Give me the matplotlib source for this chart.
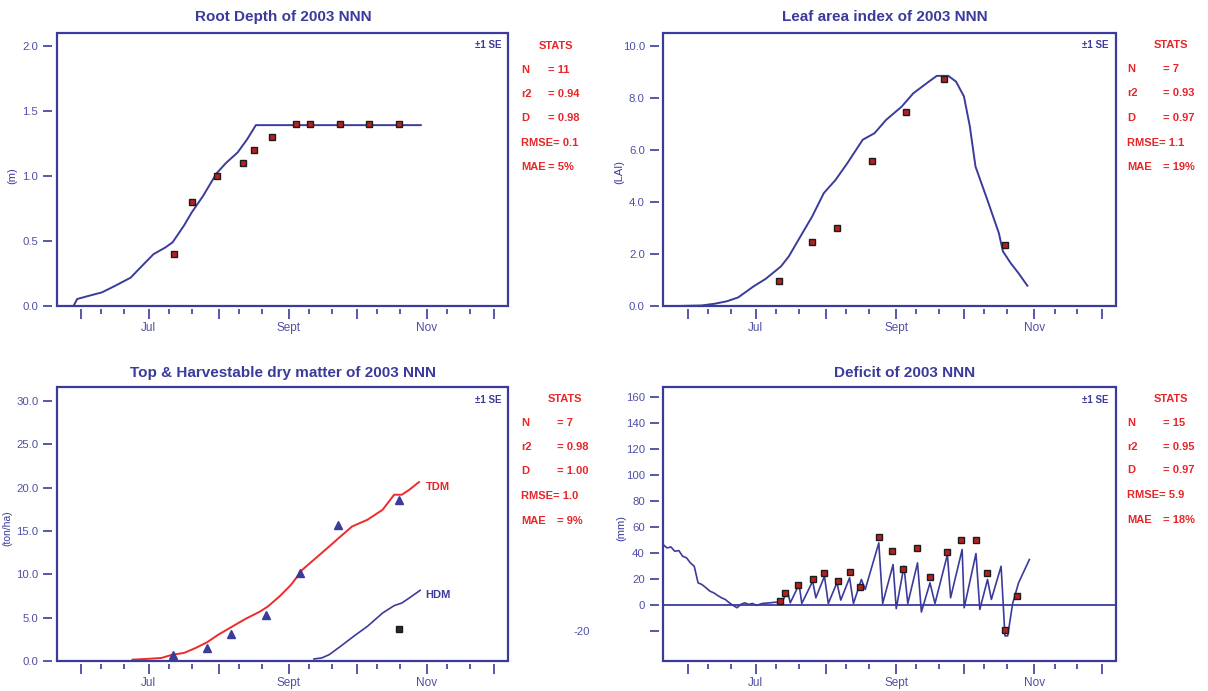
import matplotlib
matplotlib.use("Agg")
import matplotlib.pyplot as plt
from matplotlib.patches import Rectangle

plt.rcParams['font.family'] = ['Liberation Sans', 'DejaVu Sans']

# ---------------- data (day of year) ----------------
month_days = [152, 182, 213, 244, 274, 305, 335]
month_labels = ['', 'Jul', '', 'Sept', '', 'Nov', '']
minor_days = [161, 171, 191, 201, 222, 232, 253, 263, 283, 293, 314, 324]

root_sim_day = [141.5, 148.6, 150.3, 155.4, 161.3, 167.2, 174.0, 179.0, 184.1, 189.2, 192.5,
                197.6, 201.0, 206.0, 212.0, 216.2, 221.3, 225.5, 229.4, 302.4]
root_sim_val = [0.0, 0.0, 0.056, 0.08, 0.107, 0.158, 0.22, 0.31, 0.40, 0.45, 0.49,
                0.62, 0.72, 0.846, 1.02, 1.10, 1.18, 1.28, 1.39, 1.39]
root_obs_day = [193.0, 201.0, 212.3, 223.6, 228.5, 236.5, 247.1, 253.4, 266.6, 279.6, 292.6]
root_obs_val = [0.405, 0.80, 1.0, 1.10, 1.20, 1.30, 1.40, 1.40, 1.40, 1.40, 1.40]

lai_sim_day = [140.8, 158.0, 164.0, 169.2, 174.3, 181.2, 186.4, 193.2, 196.7, 201.8, 207.0,
               212.1, 217.3, 222.5, 229.3, 234.5, 239.6, 246.5, 251.6, 258.5, 262.0, 267.1,
               270.5, 274.0, 276.6, 279.1, 284.3, 289.4, 291.2, 294.6, 298.0, 302.0]
lai_sim_val = [0.0, 0.03, 0.10, 0.19, 0.34, 0.77, 1.05, 1.53, 1.92, 2.68, 3.45,
               4.34, 4.85, 5.49, 6.39, 6.64, 7.15, 7.66, 8.17, 8.62, 8.84, 8.84,
               8.62, 8.05, 6.9, 5.36, 4.09, 2.81, 2.11, 1.66, 1.28, 0.79]
lai_obs_day = [192.4, 207.1, 218.1, 233.6, 248.2, 265.0, 292.2]
lai_obs_val = [0.96, 2.46, 3.0, 5.56, 7.47, 8.71, 2.36]

tdm_sim_day = [174.8, 180.7, 187.5, 192.6, 197.6, 202.7, 207.8, 212.8, 217.9, 224.7, 231.4,
               234.8, 239.9, 245.0, 250.0, 255.1, 261.9, 266.9, 272.0, 278.8, 285.5, 290.6,
               294.0, 297.3, 301.6]
tdm_sim_val = [0.19, 0.27, 0.38, 0.77, 0.96, 1.53, 2.19, 3.07, 3.84, 4.87, 5.75,
               6.33, 7.48, 8.82, 10.55, 11.70, 13.23, 14.38, 15.53, 16.30, 17.45, 19.18,
               19.18, 19.75, 20.64]
tdm_obs_day = [192.9, 207.8, 218.4, 234.1, 248.8, 265.6, 292.6]
tdm_obs_val = [0.77, 1.53, 3.15, 5.37, 10.16, 15.73, 18.53]
hdm_sim_day = [255.1, 258.5, 261.9, 266.9, 273.7, 278.8, 285.5, 290.6, 294.0, 297.3, 302.1]
hdm_sim_val = [0.27, 0.38, 0.77, 1.73, 3.07, 4.03, 5.56, 6.41, 6.71, 7.29, 8.17]
hdm_obs_day = [292.6]
hdm_obs_val = [3.76]

def_sim_day = [141.2, 142.9, 144.6, 146.3, 148.1, 149.8, 151.5, 153.2, 154.9, 156.6, 158.3,
               160.1, 161.8, 163.5, 165.2, 166.9, 168.6, 170.4, 172.1, 173.8, 175.5, 177.2,
               178.9, 180.6, 182.4, 184.9, 188.4, 190.9,
               193.5, 196.1, 197.3, 201.2, 202.4, 207.2, 208.6, 212.4, 214.1, 217.9, 219.6,
               223.5, 225.2, 228.7, 230.4, 236.4, 238.1, 242.7, 244.1, 247.5, 249.2, 253.5,
               255.2, 259.0, 261.2, 266.7, 268.1, 273.2, 274.1, 279.3, 281.0, 284.4, 286.1,
               290.4, 292.1, 293.3, 295.5, 298.1, 302.9]
def_sim_val = [46.4, 43.8, 44.6, 41.3, 41.8, 37.4, 36.2, 32.3, 29.7, 16.9, 15.6,
               13.1, 10.5, 9.2, 7.2, 5.4, 4.1, 1.5, -0.5, -2.3, 0.3, 1.5,
               0.3, 1.0, -0.5, 1.0, 1.5, 2.0,
               1.5, 10.5, 1.5, 15.6, 1.0, 18.2, 5.4, 22.0, 1.0, 17.0, 3.6,
               20.8, 1.0, 19.5, 11.8, 47.7, 1.0, 31.0, -3.0, 29.7, 1.0, 32.3,
               -5.6, 16.9, 1.0, 38.7, 5.4, 42.6, -2.3, 39.5, -3.6, 19.5, 4.1,
               29.7, -24.0, -24.0, 1.0, 16.9, 34.9]
def_obs_day = [192.6, 195.2, 200.7, 207.4, 212.4, 218.2, 223.7, 228.1, 236.4, 242.4, 247.2,
               253.2, 259.2, 266.6, 272.7, 279.3, 284.1, 292.1, 297.6]
def_obs_val = [2.8, 9.2, 14.9, 19.5, 24.4, 18.5, 25.4, 13.8, 52.3, 41.5, 27.9,
               44.1, 21.5, 40.8, 49.7, 49.7, 24.4, -19.5, 6.7]

titles = ['Root Depth of 2003 NNN', 'Leaf area index of 2003 NNN',
          'Top & Harvestable dry matter of 2003 NNN', 'Deficit of 2003 NNN']
ylabels = ['(m)', '(LAI)', '(ton/ha)', '(mm)']
stats_tl = ['= 11', '= 0.94', '= 0.98', '0.1', '= 5%']
stats_tr = ['= 7', '= 0.93', '= 0.97', '1.1', '= 19%']
stats_bl = ['= 7', '= 0.98', '= 1.00', '1.0', '= 9%']
stats_br = ['= 15', '= 0.95', '= 0.97', '5.9', '= 18%']

# ---------------- style ----------------
W, H = 1208, 691
NAVY = '#3b3b9c'
TICKC = '#4f4fa6'
RED = '#e8262a'
SQ_FACE = '#b52020'
SQ_EDGE = '#1c1c1c'

fig = plt.figure(figsize=(W / 100, H / 100), dpi=100)
fig.patch.set_facecolor('white')


def ftxt(x, y, s, **kw):
    return fig.text(x / W, 1 - y / H, s, **kw)


def make_ax(l, r, t, b):
    return fig.add_axes([l / W, 1 - b / H, (r - l) / W, (b - t) / H])


def style(ax, ylim, yticks, yticklabels):
    ax.set_xlim(141.2, 341)
    ax.set_ylim(*ylim)
    ax.set_xticks(month_days)
    ax.set_xticklabels(month_labels)
    ax.set_xticks(minor_days, minor=True)
    ax.set_yticks(yticks)
    ax.set_yticklabels(yticklabels)
    for sp in ax.spines.values():
        sp.set_visible(False)
    ax.spines['left'].set_position(('outward', 3))
    ax.spines['bottom'].set_position(('outward', 2))
    ax.add_patch(Rectangle((0, 0), 1, 1, transform=ax.transAxes, fill=False,
                           ec=NAVY, lw=1.6, clip_on=False, zorder=5))
    ax.tick_params(axis='x', which='major', length=7.5, width=1.2, color=NAVY,
                   labelcolor=TICKC, labelsize=8.5, pad=1.5, direction='out')
    ax.tick_params(axis='x', which='minor', length=3.8, width=1.2, color=NAVY,
                   direction='out')
    ax.tick_params(axis='y', which='major', length=6.2, width=1.2, color=NAVY,
                   labelcolor=TICKC, labelsize=8.2, pad=4, direction='out')
    ax.set_facecolor('white')


def stats(xl, xv, ys, vals):
    kw = dict(color=RED, fontsize=8, fontweight='bold', va='center')
    ftxt(xv - 9, ys[0] - 24, 'STATS', ha='left', **kw)
    ftxt(xl, ys[0], 'N', ha='left', **kw)
    ftxt(xv, ys[0], vals[0], ha='left', **kw)
    ftxt(xl, ys[1], 'r2', ha='left', **kw)
    ftxt(xv, ys[1], vals[1], ha='left', **kw)
    ftxt(xl, ys[2], 'D', ha='left', **kw)
    ftxt(xv, ys[2], vals[2], ha='left', **kw)
    ftxt(xl, ys[3], 'RMSE= ' + vals[3], ha='left', **kw)
    ftxt(xl, ys[4], 'MAE', ha='left', **kw)
    ftxt(xv, ys[4], vals[4], ha='left', **kw)


def se_text(ax):
    ax.text(0.985, 0.955, '±1 SE', transform=ax.transAxes, ha='right', va='center',
            color=NAVY, fontsize=7, fontweight='bold')


sq = dict(ls='none', marker='s', ms=5, mfc=SQ_FACE, mec=SQ_EDGE, mew=1.0, zorder=4)

# ---------------- Root depth ----------------
ax1 = make_ax(56.6, 508, 32.6, 306.3)
style(ax1, (0, 2.1), [0, 0.5, 1.0, 1.5, 2.0], ['0.0', '0.5', '1.0', '1.5', '2.0'])
ax1.plot(root_sim_day, root_sim_val, color=NAVY, lw=1.4, zorder=3)
ax1.plot(root_obs_day, root_obs_val, **sq)
se_text(ax1)
ftxt(283, 17, titles[0], ha='center', va='center', color=NAVY, fontsize=11, fontweight='bold')
ftxt(12, 176, ylabels[0], ha='center', va='center', rotation=90, color=NAVY, fontsize=8)
stats(521, 548, [70, 94, 118, 143, 167], stats_tl)

# ---------------- LAI ----------------
ax2 = make_ax(663.2, 1115.7, 32.6, 306.3)
style(ax2, (0, 10.5), [0, 2, 4, 6, 8, 10], ['0.0', '2.0', '4.0', '6.0', '8.0', '10.0'])
ax2.plot(lai_sim_day, lai_sim_val, color=NAVY, lw=1.4, zorder=3)
ax2.plot(lai_obs_day, lai_obs_val, **sq)
se_text(ax2)
ftxt(885, 17, titles[1], ha='center', va='center', color=NAVY, fontsize=11, fontweight='bold')
ftxt(619, 172, ylabels[1], ha='center', va='center', rotation=90, color=NAVY, fontsize=8)
stats(1127, 1163, [69, 93, 118, 143, 167], stats_tr)

# ---------------- Dry matter ----------------
ax3 = make_ax(56.6, 508, 387.3, 661.3)
style(ax3, (0, 31.55), [0, 5, 10, 15, 20, 25, 30],
      ['0.0', '5.0', '10.0', '15.0', '20.0', '25.0', '30.0'])
ax3.plot(tdm_sim_day, tdm_sim_val, color='#ee2a2a', lw=1.4, zorder=3)
ax3.plot(hdm_sim_day, hdm_sim_val, color=NAVY, lw=1.2, zorder=3)
ax3.plot(tdm_obs_day, tdm_obs_val, ls='none', marker='^', ms=5.5, mfc=NAVY, mec=NAVY, zorder=4)
ax3.plot(hdm_obs_day, hdm_obs_val, ls='none', marker='s', ms=5, mfc='#2a2a2a', mec='#1a1a1a', zorder=4)
ax3.text(304.5, tdm_sim_val[-1] - 0.6, 'TDM', color=RED, fontsize=8, fontweight='bold',
         ha='left', va='center')
ax3.text(304.5, hdm_sim_val[-1] - 0.5, 'HDM', color=NAVY, fontsize=8, fontweight='bold',
         ha='left', va='center')
se_text(ax3)
ftxt(283, 373, titles[2], ha='center', va='center', color=NAVY, fontsize=11, fontweight='bold')
ftxt(7, 528, ylabels[2], ha='center', va='center', rotation=90, color=NAVY, fontsize=7.5)
stats(521, 557, [423, 447, 471, 496, 521], stats_bl)

# ---------------- Deficit ----------------
ax4 = make_ax(663.2, 1115.7, 387.3, 661.3)
style(ax4, (-43.6, 167.7), [-20, 0, 20, 40, 60, 80, 100, 120, 140, 160],
      ['', '0', '20', '40', '60', '80', '100', '120', '140', '160'])
ax4.axhline(0, color=NAVY, lw=1.3, zorder=2)
ax4.plot(def_sim_day, def_sim_val, color=NAVY, lw=1.2, zorder=3)
ax4.plot(def_obs_day, def_obs_val, **sq)
se_text(ax4)
ftxt(905, 373, titles[3], ha='center', va='center', color=NAVY, fontsize=11, fontweight='bold')
ftxt(621, 528, ylabels[3], ha='center', va='center', rotation=90, color=NAVY, fontsize=8)
ftxt(582, 632, '-20', ha='center', va='center', color=TICKC, fontsize=8.2)
stats(1127, 1163, [423, 447, 470, 495, 520], stats_br)

fig.savefig('out.png', dpi=100, facecolor='white')
